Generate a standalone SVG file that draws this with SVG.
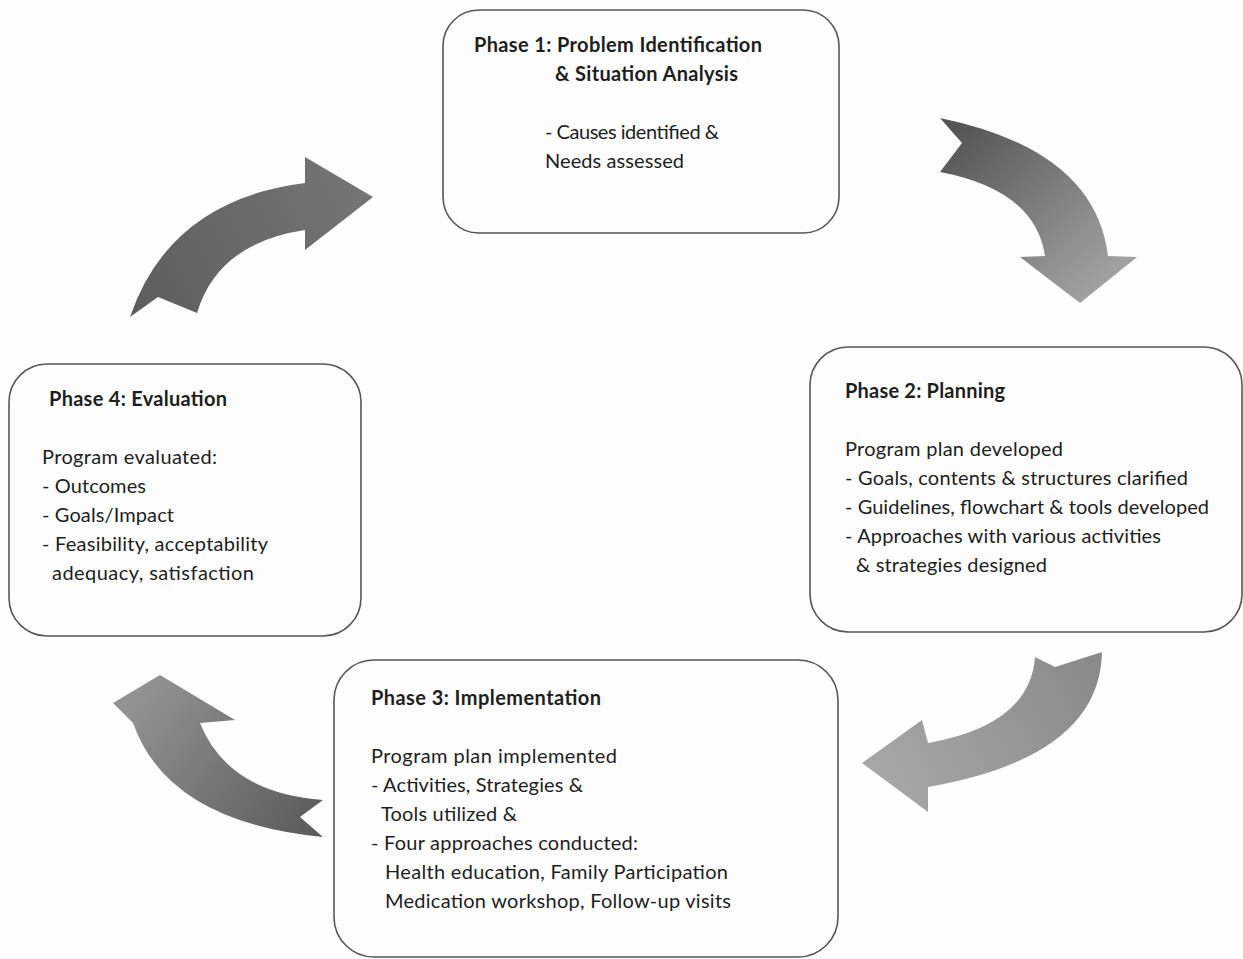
<svg xmlns="http://www.w3.org/2000/svg" width="1243" height="959" viewBox="0 0 1243 959">
<style>
.box{fill:#fdfdfd;stroke:#575757;stroke-width:1.6}
text{font-family:Lato,"Liberation Sans",sans-serif;font-size:20px;fill:#1e1e1e}
.h{font-weight:bold}
</style>
<defs>
<linearGradient id="g1" gradientUnits="userSpaceOnUse" x1="945" y1="140" x2="1090" y2="290">
<stop offset="0" stop-color="#555"/><stop offset="1" stop-color="#a0a0a0"/></linearGradient>
<linearGradient id="g2" gradientUnits="userSpaceOnUse" x1="140" y1="310" x2="370" y2="190">
<stop offset="0" stop-color="#5e5e5e"/><stop offset="1" stop-color="#757575"/></linearGradient>
<linearGradient id="g3" gradientUnits="userSpaceOnUse" x1="1090" y1="660" x2="870" y2="780">
<stop offset="0" stop-color="#8a8a8a"/><stop offset="1" stop-color="#a8a8a8"/></linearGradient>
<linearGradient id="g4" gradientUnits="userSpaceOnUse" x1="320" y1="820" x2="140" y2="690">
<stop offset="0" stop-color="#5c5c5c"/><stop offset="1" stop-color="#929292"/></linearGradient>
</defs>
<rect width="1243" height="959" fill="#fefefe"/>
<g id="connectors">
<path d="M940,118 Q1095,150 1108,256 L1137,257 L1080,303 L1020,257 L1045,256 Q1035,190 940,172 L962,143 Z" fill="url(#g1)"/>
<path d="M130,317 Q170,200 305,183 L305,157 L373,197 L305,250 L305,230 Q218,243 197,313 L158,297 Z" fill="url(#g2)"/>
<path d="M1102,652 Q1100,757 928,787 L928,812 L862,763 L922,720 L928,743 Q1030,725 1035,657 L1055,667 Z" fill="url(#g3)"/>
<path d="M323,800 Q228,793 200,723 L235,720 L160,675 L113,703 L133,723 Q168,822 323,837 L300,817 Z" fill="url(#g4)"/>
</g>
<g id="phase1">
<rect class="box" x="443" y="10" width="396" height="223" rx="36"/>
<text class="h" x="474" y="52" textLength="288">Phase 1: Problem Identification</text>
<text class="h" x="555" y="81" textLength="183">&amp; Situation Analysis</text>
<text x="545" y="139" textLength="174">- Causes identified &amp;</text>
<text x="545" y="168" textLength="139">Needs assessed</text>
</g>
<g id="phase2">
<rect class="box" x="810" y="347" width="432" height="285" rx="38"/>
<text class="h" x="845" y="398" textLength="160">Phase 2: Planning</text>
<text x="845" y="456" textLength="218">Program plan developed</text>
<text x="845" y="485" textLength="343">- Goals, contents &amp; structures clarified</text>
<text x="845" y="514" textLength="364">- Guidelines, flowchart &amp; tools developed</text>
<text x="845" y="543" textLength="316">- Approaches with various activities</text>
<text x="856" y="572" textLength="191">&amp; strategies designed</text>
</g>
<g id="phase4">
<rect class="box" x="9" y="364" width="352" height="272" rx="38"/>
<text class="h" x="49" y="406" textLength="178">Phase 4: Evaluation</text>
<text x="42" y="464" textLength="175">Program evaluated:</text>
<text x="42" y="493" textLength="104">- Outcomes</text>
<text x="42" y="522" textLength="132">- Goals/Impact</text>
<text x="42" y="551" textLength="226">- Feasibility, acceptability</text>
<text x="52" y="580" textLength="202">adequacy, satisfaction</text>
</g>
<g id="phase3">
<rect class="box" x="334" y="660" width="504" height="297" rx="40"/>
<text class="h" x="371" y="705" textLength="230">Phase 3: Implementation</text>
<text x="371" y="763" textLength="246">Program plan implemented</text>
<text x="371" y="792" textLength="212">- Activities, Strategies &amp;</text>
<text x="381" y="821" textLength="136">Tools utilized &amp;</text>
<text x="371" y="850" textLength="267">- Four approaches conducted:</text>
<text x="385" y="879" textLength="343">Health education, Family Participation</text>
<text x="385" y="908" textLength="346">Medication workshop, Follow-up visits</text>
</g>
</svg>
